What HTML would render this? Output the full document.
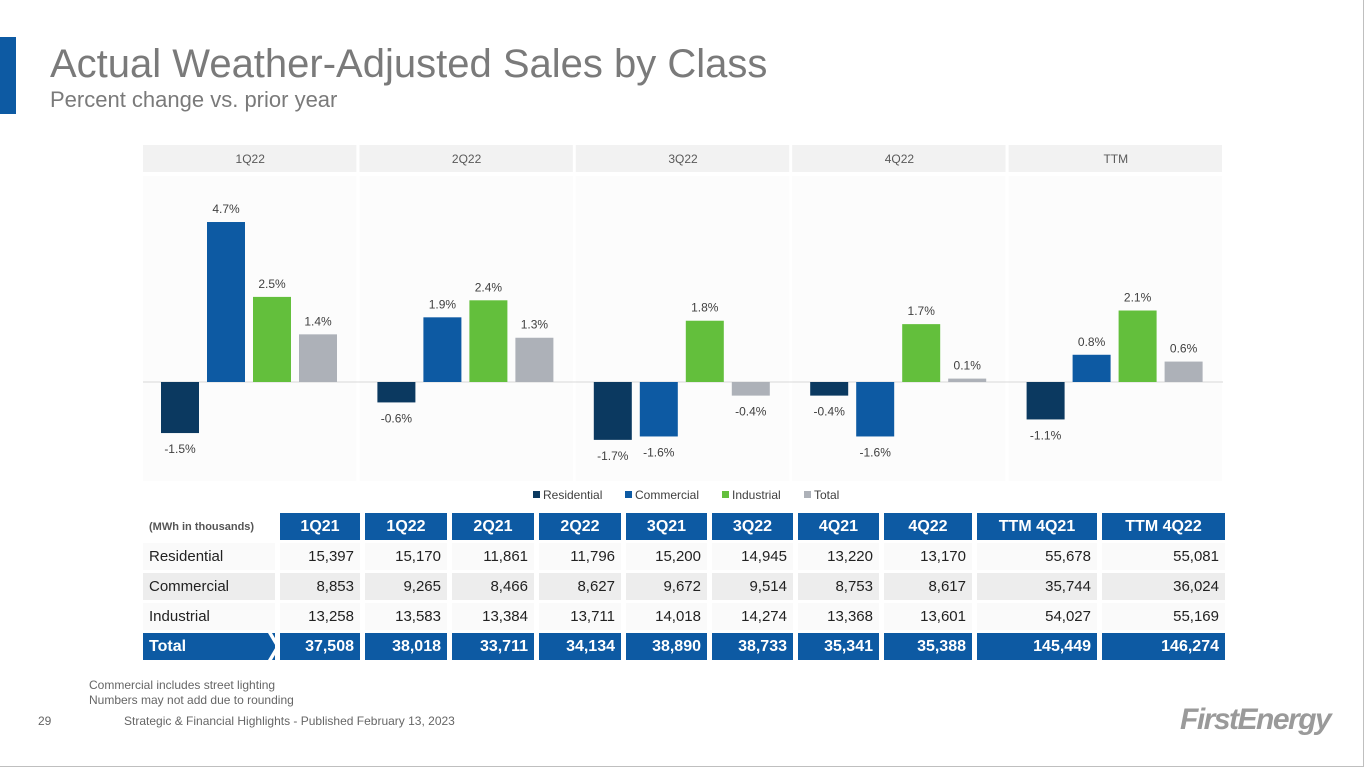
<!DOCTYPE html>
<html><head><meta charset="utf-8">
<style>
body{margin:0;width:1365px;height:768px;overflow:hidden;background:#fff;font-family:"Liberation Sans",Arial,sans-serif;position:relative}
.abs{position:absolute}
#frame{left:0;top:0;width:1363px;height:766px;border-right:1px solid #bfbfbf;border-bottom:1px solid #bfbfbf;box-sizing:content-box}
table{position:absolute;left:138px;top:510px;border-collapse:separate;border-spacing:5px 3px;table-layout:fixed}
td,th{height:27px;padding:0 6px;font-size:15px;color:#222;text-align:right;white-space:nowrap;overflow:visible}
th{background:#0d5aa3;color:#fff;text-align:center;font-size:16px}
th.lbl{background:none;color:#555;font-size:11px;text-align:left;padding-left:6px}
td.lbl{text-align:left;padding-left:6px}
tr.r1 td,tr.r3 td{background:#fafafa}
tr.r2 td{background:#ededed}
tr.tot td{background:#0d5aa3;color:#fff;font-weight:bold;font-size:16px}
</style></head><body>
<div id="frame" class="abs"></div>
<div class="abs" style="left:0;top:37px;width:16px;height:77px;background:#0d5aa3"></div>
<div class="abs" style="left:50px;top:42px;font-size:40px;color:#7a7a7a">Actual Weather-Adjusted Sales by Class</div>
<div class="abs" style="left:50px;top:87px;font-size:22px;color:#7a7a7a">Percent change vs. prior year</div>
<svg class="abs" style="left:0;top:0" width="1365" height="510" id="chart"></svg>
<table>
<tr><th class="lbl" style="width:120px">(MWh in thousands)</th><th style="width:68px">1Q21</th><th style="width:70px">1Q22</th><th style="width:70px">2Q21</th><th style="width:70px">2Q22</th><th style="width:69px">3Q21</th><th style="width:69px">3Q22</th><th style="width:69px">4Q21</th><th style="width:76px">4Q22</th><th style="width:108px">TTM 4Q21</th><th style="width:111px">TTM 4Q22</th></tr>
<tr class="r1"><td class="lbl">Residential</td><td>15,397</td><td>15,170</td><td>11,861</td><td>11,796</td><td>15,200</td><td>14,945</td><td>13,220</td><td>13,170</td><td>55,678</td><td>55,081</td></tr>
<tr class="r2"><td class="lbl">Commercial</td><td>8,853</td><td>9,265</td><td>8,466</td><td>8,627</td><td>9,672</td><td>9,514</td><td>8,753</td><td>8,617</td><td>35,744</td><td>36,024</td></tr>
<tr class="r3"><td class="lbl">Industrial</td><td>13,258</td><td>13,583</td><td>13,384</td><td>13,711</td><td>14,018</td><td>14,274</td><td>13,368</td><td>13,601</td><td>54,027</td><td>55,169</td></tr>
<tr class="tot"><td class="lbl" style="position:relative">Total<svg style="position:absolute;right:-5px;top:0" width="12" height="27"><polygon points="0,0 4,0 12,13.5 4,27 0,27 8,13.5" fill="#fff"/></svg></td><td>37,508</td><td>38,018</td><td>33,711</td><td>34,134</td><td>38,890</td><td>38,733</td><td>35,341</td><td>35,388</td><td>145,449</td><td>146,274</td></tr>
</table>
<div class="abs" style="left:89px;top:678px;font-size:12px;color:#666;line-height:15px">Commercial includes street lighting<br>Numbers may not add due to rounding</div>
<div class="abs" style="left:38px;top:714px;font-size:12px;color:#666">29</div>
<div class="abs" style="left:124px;top:714px;font-size:12px;color:#666">Strategic &amp; Financial Highlights - Published February 13, 2023</div>
<div class="abs" style="left:1180px;top:703px;font-size:30px;font-style:italic;font-weight:bold;color:#9a9a9a;letter-spacing:-1.5px">FirstEnergy</div>
<script>
const periods=["1Q22","2Q22","3Q22","4Q22","TTM"];
const seriesNames=["Residential","Commercial","Industrial","Total"];
const residential=[-1.5,-0.6,-1.7,-0.4,-1.1];
const commercial=[4.7,1.9,-1.6,-1.6,0.8];
const industrial=[2.5,2.4,1.8,1.7,2.1];
const total=[1.4,1.3,-0.4,0.1,0.6];
const colors=["#0b3960","#0d5aa3","#63bf3c","#adb1b8"];
const series=[residential,commercial,industrial,total];
const svg=document.getElementById('chart');const NS='http://www.w3.org/2000/svg';
const zeroY=382,pxPer=34.04,panelX0=143,panelW=216.4;
const y=v=>zeroY-v*pxPer;
function mk(t,a){const e=document.createElementNS(NS,t);for(const k in a)e.setAttribute(k,a[k]);svg.appendChild(e);return e;}
periods.forEach((p,i)=>{
 const x0=panelX0+i*panelW;
 const h=mk('rect',{x:x0,y:145,width:panelW-3,height:27,fill:'#f2f2f2'});
 
 
 const bg=mk('rect',{x:x0,y:176,width:panelW-3,height:305,fill:'#fcfcfc'});
 
 
 const t=mk('text',{x:x0+panelW/2-1,y:163,'font-size':12,fill:'#595959','text-anchor':'middle'});t.textContent=p;
 
 
});
mk('line',{x1:143,x2:1223,y1:zeroY,y2:zeroY,stroke:'#d9d9d9','stroke-width':1});
periods.forEach((p,i)=>{
 const x0=panelX0+i*panelW;
 series.forEach((s,j)=>{
  const v=s[i],bx=x0+18+j*46,top=Math.min(y(v),zeroY),hh=Math.abs(y(v)-zeroY);
  const r=mk('rect',{x:bx,y:top,width:38,height:Math.max(hh,1),fill:colors[j]});
  
  
  const ly=v>=0?y(v)-9:y(v)+20;
  const l=mk('text',{x:bx+19,y:ly,'font-size':12,fill:'#404040','text-anchor':'middle'});l.textContent=v.toFixed(1)+'%';
  
  
 });
});
const lx=[533,625,722,804];
seriesNames.forEach((n,j)=>{
 const r=mk('rect',{x:lx[j],y:491,width:7,height:7,fill:colors[j]});
 
 
 const t=mk('text',{x:lx[j]+10,y:499,'font-size':12,fill:'#404040'});t.textContent=n;
 
 
});
</script>
</body></html>
